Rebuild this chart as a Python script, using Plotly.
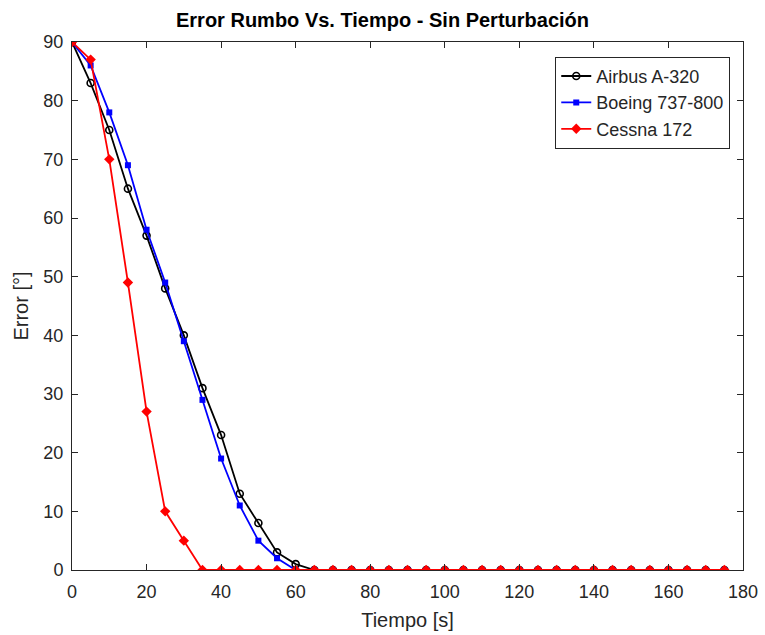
import plotly.graph_objects as go

tiempo = list(range(0, 180, 5))
airbus = [90, 83, 75, 65, 57, 48, 40, 31, 23, 13, 8, 3, 1] + [0] * 23
boeing = [90, 86, 78, 69, 58, 49, 39, 29, 19, 11, 5, 2, 0] + [0] * 23
cessna = [90, 87, 70, 49, 27, 10, 5] + [0] * 29

FONT = "Liberation Sans, Arial"
AX = "#262626"

fig = go.Figure()
fig.add_trace(go.Scatter(x=tiempo, y=airbus, mode="lines+markers", name="Airbus A-320",
                         line=dict(color="black", width=1.8),
                         marker=dict(symbol="circle-open", size=7, color="black", line=dict(width=1.6))))
fig.add_trace(go.Scatter(x=tiempo, y=boeing, mode="lines+markers", name="Boeing 737-800",
                         line=dict(color="rgb(0,0,255)", width=1.8),
                         marker=dict(symbol="square", size=6, color="rgb(0,0,255)")))
fig.add_trace(go.Scatter(x=tiempo, y=cessna, mode="lines+markers", name="Cessna 172",
                         line=dict(color="rgb(255,0,0)", width=1.8),
                         marker=dict(symbol="diamond", size=8, color="rgb(255,0,0)")))

axis_common = dict(showline=True, linecolor=AX, linewidth=1, mirror="ticks", automargin=False,
                   ticks="inside", ticklen=6, tickcolor=AX, showgrid=False, zeroline=False,
                   tickfont=dict(family=FONT, size=18, color=AX))
fig.update_xaxes(range=[0, 180], dtick=20, tick0=0, ticklabeloverflow="allow", ticklabelstandoff=5,
                 title=dict(text="Tiempo [s]", font=dict(family=FONT, size=20, color=AX), standoff=12),
                 **axis_common)
fig.update_yaxes(range=[0, 90], dtick=10, tick0=0, ticklabelstandoff=4,
                 title=dict(text="Error [°]", font=dict(family=FONT, size=20, color=AX), standoff=9),
                 **axis_common)

fig.update_layout(
    width=765, height=635,
    margin=dict(l=72, r=22, t=42, b=65),
    paper_bgcolor="white", plot_bgcolor="white",
    title=dict(text="<b>Error Rumbo Vs. Tiempo - Sin Perturbación</b>", x=0.5, xref="container",
               xanchor="center", y=1 - 20 / 635, yanchor="middle",
               font=dict(family=FONT, size=20, color="black")),
    legend=dict(x=0.981, y=0.972, xanchor="right", yanchor="top",
                bordercolor=AX, borderwidth=1, bgcolor="white",
                font=dict(family=FONT, size=18, color=AX),
                tracegroupgap=0),
    showlegend=True,
)
fig.write_html("out.html")
